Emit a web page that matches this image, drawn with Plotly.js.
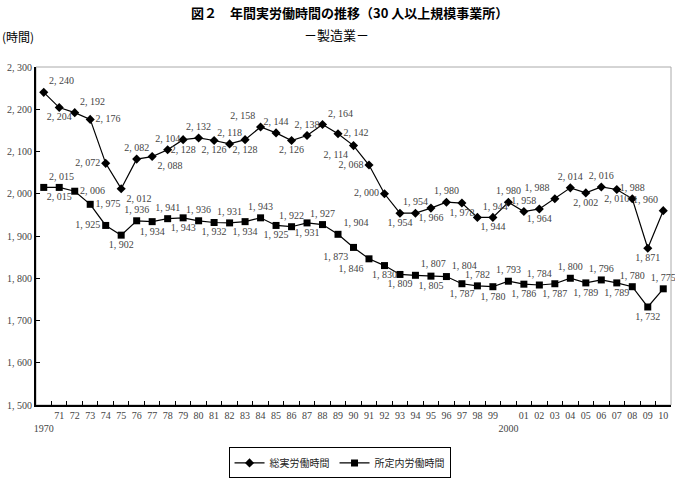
<!DOCTYPE html>
<html>
<head>
<meta charset="utf-8">
<script src="https://cdn.plot.ly/plotly-3.0.1.min.js"></script>
<style>html,body{margin:0;padding:0;background:#fff;}#chart{width:675px;height:479px;}</style>
</head>
<body>
<div id="chart"></div>
<script>
const years = [1970,1971,1972,1973,1974,1975,1976,1977,1978,1979,1980,1981,1982,1983,1984,1985,1986,1987,1988,1989,1990,1991,1992,1993,1994,1995,1996,1997,1998,1999,2000,2001,2002,2003,2004,2005,2006,2007,2008,2009,2010];
const xTickLabels = ['<br>1970','71','72','73','74','75','76','77','78','79','80','81','82','83','84','85','86','87','88','89','90','91','92','93','94','95','96','97','98','99','<br>2000','01','02','03','04','05','06','07','08','09','10'];
const totalHours = [2240,2204,2192,2176,2072,2012,2082,2088,2104,2128,2132,2126,2118,2128,2158,2144,2126,2138,2164,2142,2114,2068,2000,1954,1954,1966,1980,1978,1944,1944,1980,1958,1964,1988,2014,2002,2016,2010,1988,1871,1960];
const scheduledHours = [2015,2015,2006,1975,1925,1902,1936,1934,1941,1943,1936,1932,1931,1934,1943,1925,1922,1931,1927,1904,1873,1846,1830,1809,1807,1805,1804,1787,1782,1780,1793,1786,1784,1787,1800,1789,1796,1789,1780,1732,1775];
const yTickVals = [1500,1600,1700,1800,1900,2000,2100,2200,2300];
const seriesNames = ['総実労働時間','所定内労働時間'];

// label placement (style only)
const totalPos = ['top right','bottom center','top right','middle right','middle left','bottom right','top center','bottom right','top center','bottom center',
 'top center','bottom center','top center','bottom center','top left','top center','bottom center','top center','top right','middle right',
 'bottom left','middle left','middle left','bottom center','top center','bottom center','top center','bottom center','top right','bottom center',
 'top center','top center','bottom center','top left','top center','bottom center','top center','bottom center','top center','bottom center','top left'];
const schedPos = ['top right','bottom center','middle right','middle right','middle left','bottom center','top center','bottom center','top center','bottom center',
 'top center','bottom center','top center','bottom center','top center','bottom center','top center','bottom center','top center','top right',
 'bottom left','bottom left','bottom center','bottom center','top right','bottom center','top right','bottom center','top center','bottom center',
 'top center','bottom center','top center','bottom center','top center','bottom center','top center','bottom center','top center','bottom center','top center'];

const fmt = v => Math.floor(v/1000) + ', ' + String(v % 1000).padStart(3,'0');
const numFont = {family:'"Liberation Serif", "DejaVu Serif", serif', size:10, color:'#444'};
const jpFont = '"Noto Sans CJK JP", sans-serif';

const traces = [
  {x: years, y: totalHours, name: seriesNames[0], type:'scatter', mode:'lines+markers+text',
   line:{color:'#000', width:1.2}, marker:{symbol:'diamond', size:7, color:'#000'},
   text: totalHours.map(fmt), textposition: totalPos, textfont: numFont, cliponaxis:false},
  {x: years, y: scheduledHours, name: seriesNames[1], type:'scatter', mode:'lines+markers+text',
   line:{color:'#000', width:1.2}, marker:{symbol:'square', size:7, color:'#000'},
   text: scheduledHours.map(fmt), textposition: schedPos, textfont: numFont, cliponaxis:false}
];

const layout = {
  width:675, height:479,
  margin:{l:36, r:4, t:67, b:74},
  paper_bgcolor:'#fff', plot_bgcolor:'#fff',
  showlegend:true,
  title:{text:'図２　年間実労働時間の推移（30 人以上規模事業所）', font:{family:jpFont, size:13, color:'#000', weight:'bold'},
         x:0.518, xanchor:'center', xref:'container', y:0.972, yanchor:'middle', yref:'container'},
  xaxis:{type:'category', tickmode:'array', tickvals: years, ticktext: xTickLabels, tickson:'boundaries', tickangle:0,
         ticks:'inside', ticklen:4, tickcolor:'#000', tickwidth:1,
         showline:true, linecolor:'#000', linewidth:2, showgrid:false, zeroline:false,
         tickfont:numFont, range:[-0.5, years.length-0.5], fixedrange:true},
  yaxis:{range:[1500,2300], tickmode:'array', tickvals:yTickVals, ticktext:yTickVals.map(fmt),
         ticks:'inside', ticklen:4, tickcolor:'#000', tickwidth:1,
         showline:true, linecolor:'#000', linewidth:2, showgrid:false, zeroline:false,
         tickfont:numFont, fixedrange:true},
  legend:{orientation:'h', xref:'container', yref:'container', x:0.503, xanchor:'center', y:0.066, yanchor:'top',
          bordercolor:'#000', borderwidth:1, font:{family:jpFont, size:10, color:'#222'}, bgcolor:'#fff'},
  shapes:[{type:'rect', xref:'paper', yref:'paper', x0:0, x1:1, y0:0, y1:1, line:{color:'#aaa', width:1}, layer:'below'}],
  annotations:[
    {text:'－製造業－', xref:'paper', yref:'paper', x:(336-36)/635, y:(405-35)/338, xanchor:'center', yanchor:'middle', showarrow:false,
     font:{family:jpFont, size:13, color:'#000'}},
    {text:'(時間)', xref:'paper', yref:'paper', x:-36/635, y:(405-36)/338, xanchor:'left', yanchor:'middle', showarrow:false,
     font:{family:jpFont, size:12, color:'#000'}}
  ]
};

Plotly.newPlot('chart', traces, layout, {staticPlot:true, displayModeBar:false});
</script>
</body>
</html>
